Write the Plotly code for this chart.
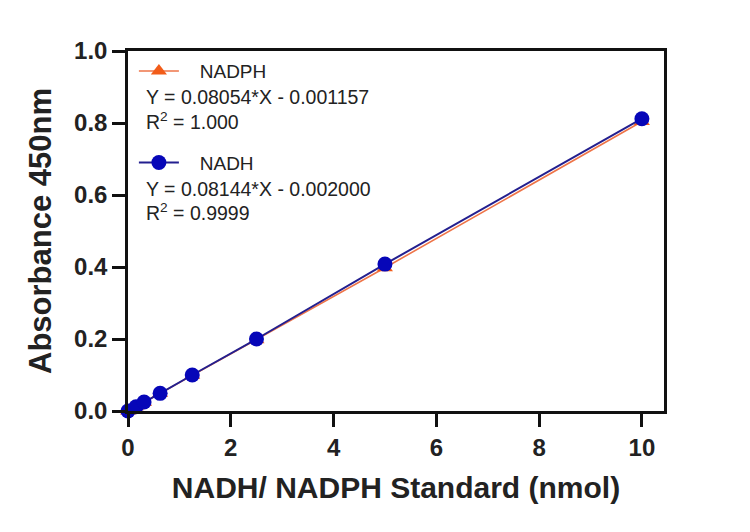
import plotly.graph_objects as go

# ---- data ----
x_nmol = [0, 0.15625, 0.3125, 0.625, 1.25, 2.5, 5, 10]
nadph_abs = [0.0, 0.012, 0.024, 0.049, 0.099, 0.198, 0.398, 0.804]
nadh_abs = [0.0, 0.012, 0.025, 0.049, 0.100, 0.200, 0.408, 0.812]
series_names = ["NADPH", "NADH"]
equations = ["Y = 0.08054*X - 0.001157", "Y = 0.08144*X - 0.002000"]
r_squared = ["R<sup>2</sup> = 1.000", "R<sup>2</sup> = 0.9999"]
x_ticks = [0, 2, 4, 6, 8, 10]
y_ticks = [0.0, 0.2, 0.4, 0.6, 0.8, 1.0]

FONT = "Liberation Sans, Arial, sans-serif"
TXT = "#222222"
PAD = "\u00a0\u00a0\u00a0"

fig = go.Figure()
fig.add_trace(go.Scatter(
    x=x_nmol, y=nadph_abs, name=PAD + series_names[0], mode="lines+markers",
    line=dict(color="#ee7448", width=1.6),
    marker=dict(symbol="triangle-up", size=14, color="#f25c19"),
    cliponaxis=False, legend="legend",
))
fig.add_trace(go.Scatter(
    x=x_nmol, y=nadh_abs, name=PAD + series_names[1], mode="lines+markers",
    line=dict(color="#231f8f", width=2),
    marker=dict(symbol="circle", size=15, color="#0606b8"),
    cliponaxis=False, legend="legend2",
))

axis_common = dict(
    showline=True, linecolor="#111111", linewidth=2.5, mirror=True,
    ticks="outside", ticklen=13, tickwidth=2.5, tickcolor="#111111",
    showgrid=False, zeroline=False,
    tickfont=dict(family=FONT, size=24, color=TXT, weight="bold"),
)

fig.update_xaxes(
    range=[0, 10.43], tickvals=x_ticks, ticktext=[str(v) for v in x_ticks],
    title=dict(text="NADH/ NADPH Standard (nmol)", standoff=18,
               font=dict(family=FONT, size=30, color=TXT, weight="bold")),
    **axis_common,
)
fig.update_yaxes(
    range=[0, 1.0], tickvals=y_ticks, ticktext=[f"{v:.1f}" for v in y_ticks],
    title=dict(text="Absorbance 450nm", standoff=14,
               font=dict(family=FONT, size=31, color=TXT, weight="bold")),
    **axis_common,
)

legend_style = dict(
    font=dict(family=FONT, size=19, color=TXT),
    bgcolor="rgba(0,0,0,0)", borderwidth=0,
    xanchor="left", yanchor="middle", itemwidth=40,
)
fig.update_layout(
    width=750, height=532,
    margin=dict(l=120, r=94, t=43, b=129),
    paper_bgcolor="white", plot_bgcolor="white",
    showlegend=True,
    legend=dict(x=0.011, y=0.944, **legend_style),
    legend2=dict(x=0.011, y=0.690, **legend_style),
)

eq_pos = [(0.872, 0.806), (0.617, 0.552)]
for i in range(2):
    fig.add_annotation(text=equations[i], xref="paper", yref="paper",
                       x=0.030, y=eq_pos[i][0], xanchor="left", yanchor="middle",
                       showarrow=False, font=dict(family=FONT, size=19.5, color=TXT))
    fig.add_annotation(text=r_squared[i], xref="paper", yref="paper",
                       x=0.030, y=eq_pos[i][1], xanchor="left", yanchor="middle",
                       showarrow=False, font=dict(family=FONT, size=19.5, color=TXT))

fig.write_html("out.html")
